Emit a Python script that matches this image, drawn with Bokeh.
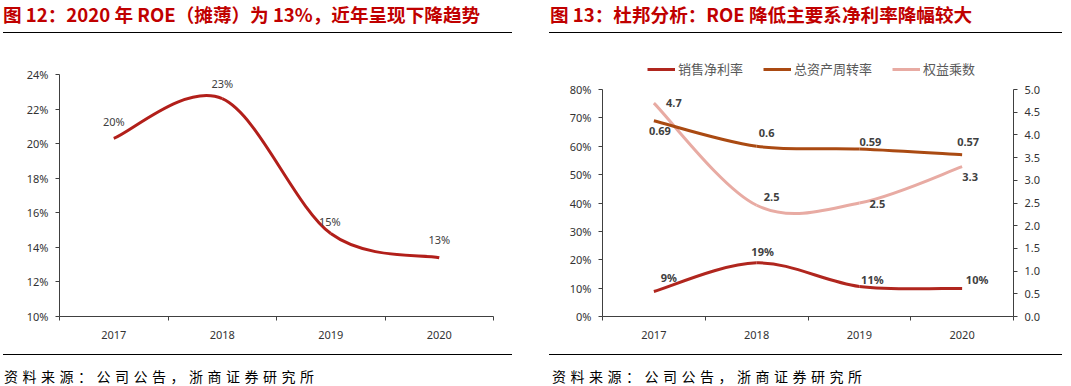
from bokeh.plotting import figure
from bokeh.models import (Range1d, LinearAxis, FixedTicker, PrintfTickFormatter, NumeralTickFormatter,
                          ColumnDataSource, LabelSet, Legend, LegendItem, Div)
from bokeh.layouts import row, column
from bokeh.core.properties import value
from bokeh.embed import file_html
from bokeh.resources import INLINE

# ---------------- data ----------------
years = ["2017", "2018", "2019", "2020"]
roe = [20.3, 22.6, 14.8, 13.4]
roe_labels = ["20%", "23%", "15%", "13%"]
net_margin = [0.088, 0.189, 0.106, 0.099]
net_margin_labels = ["9%", "19%", "11%", "10%"]
turnover = [0.69, 0.60, 0.59, 0.57]
turnover_labels = ["0.69", "0.6", "0.59", "0.57"]
equity_mult = [4.7, 2.45, 2.5, 3.3]
equity_mult_labels = ["4.7", "2.5", "2.5", "3.3"]
left_ticks = [10, 12, 14, 16, 18, 20, 22, 24]
right_pct_ticks = [0, 0.1, 0.2, 0.3, 0.4, 0.5, 0.6, 0.7, 0.8]
right_mult_ticks = [0, 0.5, 1.0, 1.5, 2.0, 2.5, 3.0, 3.5, 4.0, 4.5, 5.0]
series_names = ["销售净利率", "总资产周转率", "权益乘数"]
title_left = "图 12：2020 年 ROE（摊薄）为 13%，近年呈现下降趋势"
title_right = "图 13：杜邦分析：ROE 降低主要系净利率降幅较大"
source_note = "资料来源：公司公告，浙商证券研究所"

# ---------------- styles ----------------
CJK = "Noto Sans CJK SC"
NUM = "Noto Sans"
AXIS_COL = "#404040"
TXT_COL = "#404040"
TITLE_COL = "#C00000"

xs = [i + 0.5 for i in range(len(years))]
n_cat = len(years)


def smooth(xv, yv):
    """Catmull-Rom style cubic Bezier segments through the data points."""
    d = dict(x0=[], y0=[], x1=[], y1=[], cx0=[], cy0=[], cx1=[], cy1=[])
    n = len(xv)
    for i in range(n - 1):
        a = i - 1 if i > 0 else i
        b = i + 2 if i + 2 < n else i + 1
        d["x0"].append(xv[i]); d["y0"].append(yv[i])
        d["x1"].append(xv[i + 1]); d["y1"].append(yv[i + 1])
        d["cx0"].append(xv[i] + (xv[i + 1] - xv[a]) / 6)
        d["cy0"].append(yv[i] + (yv[i + 1] - yv[a]) / 6)
        d["cx1"].append(xv[i + 1] - (xv[b] - xv[i]) / 6)
        d["cy1"].append(yv[i + 1] - (yv[b] - yv[i]) / 6)
    return ColumnDataSource(d)


def style_common(p):
    p.xgrid.visible = False
    p.ygrid.visible = False
    p.outline_line_color = None
    p.background_fill_color = "white"
    p.border_fill_color = "white"


def style_xaxis(ax):
    ax.ticker = FixedTicker(ticks=xs, minor_ticks=list(range(n_cat + 1)))
    ax.major_label_overrides = {x: y for x, y in zip(xs, years)}
    ax.major_tick_line_color = None
    ax.major_tick_out = 0
    ax.major_tick_in = 0
    ax.minor_tick_out = 4
    ax.minor_tick_in = 0
    ax.minor_tick_line_color = AXIS_COL
    ax.axis_line_color = AXIS_COL
    ax.major_label_standoff = 10
    ax.major_label_text_font = NUM
    ax.major_label_text_font_size = "11px"
    ax.major_label_text_color = "#333333"


def style_yaxis(ax, ticks, fmt):
    ax.ticker = FixedTicker(ticks=ticks)
    ax.formatter = fmt
    ax.bounds = (ticks[0], ticks[-1])
    ax.minor_tick_line_color = None
    ax.major_tick_out = 4
    ax.major_tick_in = 0
    ax.major_tick_line_color = AXIS_COL
    ax.axis_line_color = AXIS_COL
    ax.major_label_standoff = 7
    ax.major_label_text_font = NUM
    ax.major_label_text_font_size = "11px"
    ax.major_label_text_color = "#333333"


HEAD_H = 40
CH_H = 314
FOOT_H = 32


def header_div(width, title, margin_left=0, text_left=0):
    html = (f'<div style="position:relative;width:{width}px;height:{HEAD_H}px;">'
            f'<div style="position:absolute;left:{text_left}px;top:4px;white-space:nowrap;font-family:\'{CJK}\';'
            f'font-size:18.6px;line-height:19px;font-weight:bold;color:{TITLE_COL};">{title}</div>'
            f'<div style="position:absolute;left:0;top:32px;width:{width}px;height:0;'
            f'border-top:1.2px solid #000;"></div></div>')
    return Div(text=html, width=width, height=HEAD_H, margin=(0, 0, 0, margin_left))


def footer_div(width, margin_left=0, text_left=1):
    html = (f'<div style="position:relative;width:{width}px;height:{FOOT_H}px;">'
            f'<div style="position:absolute;left:0;top:0;width:{width}px;height:0;'
            f'border-top:1.2px solid #000;"></div>'
            f'<div style="position:absolute;left:{text_left}px;top:14px;white-space:nowrap;'
            f'font-family:\'{CJK}\';font-size:14px;line-height:16px;letter-spacing:4.5px;color:#000;">'
            f'{source_note}</div></div>')
    return Div(text=html, width=width, height=FOOT_H, margin=(0, 0, 0, margin_left))


# ================= left chart =================
W1 = 545
p1 = figure(width=W1, height=CH_H, x_range=Range1d(0, n_cat), y_range=Range1d(left_ticks[0], left_ticks[-1]),
            output_backend="svg", toolbar_location=None,
            min_border_left=59, min_border_right=52, min_border_top=34, min_border_bottom=38)
style_common(p1)
style_xaxis(p1.xaxis[0])
style_yaxis(p1.yaxis[0], left_ticks, PrintfTickFormatter(format="%d%%"))

p1.bezier(x0="x0", y0="y0", x1="x1", y1="y1", cx0="cx0", cy0="cy0", cx1="cx1", cy1="cy1",
          source=smooth(xs, roe), line_color="#B21F1A", line_width=3)

lab1 = ColumnDataSource(dict(x=xs, y=roe, t=roe_labels, dx=[0, 0, -1, 0], dy=[17, 15, 12, 18]))
p1.add_layout(LabelSet(x="x", y="y", text="t", x_offset="dx", y_offset="dy", source=lab1,
                       text_align="center", text_baseline="middle", text_font=value(NUM),
                       text_font_size="11px", text_color=TXT_COL))

left_col = column(header_div(509, title_left, margin_left=3), p1, footer_div(509, margin_left=3, text_left=1))

# ================= right chart =================
# frame is taller than the value area so that the legend sits inside it;
# axis bounds keep the axis lines to the 0-80% / 0-5.0 span.
W2 = 526
TOP2 = 14          # frame top (px from canvas top)
VAL_TOP2 = 49      # where 80% / 5.0 sit
BOT2 = 38
plot_h = CH_H - TOP2 - BOT2
val_h = CH_H - VAL_TOP2 - BOT2
ext = plot_h / val_h
p2 = figure(width=W2, height=CH_H, x_range=Range1d(0, n_cat),
            y_range=Range1d(right_pct_ticks[0], right_pct_ticks[-1] * ext),
            output_backend="svg", toolbar_location=None,
            min_border_left=57, min_border_right=58, min_border_top=TOP2, min_border_bottom=BOT2)
style_common(p2)
style_xaxis(p2.xaxis[0])
style_yaxis(p2.yaxis[0], right_pct_ticks, NumeralTickFormatter(format="0%"))
p2.extra_y_ranges = {"right": Range1d(right_mult_ticks[0], right_mult_ticks[-1] * ext)}
rax = LinearAxis(y_range_name="right")
style_yaxis(rax, right_mult_ticks, PrintfTickFormatter(format="%.1f"))
p2.add_layout(rax, "right")

colors = ["#B0261E", "#AA4A12", "#E8ABA3"]
r_nm = p2.bezier(x0="x0", y0="y0", x1="x1", y1="y1", cx0="cx0", cy0="cy0", cx1="cx1", cy1="cy1",
                 source=smooth(xs, net_margin), line_color=colors[0], line_width=3)
r_eq = p2.bezier(x0="x0", y0="y0", x1="x1", y1="y1", cx0="cx0", cy0="cy0", cx1="cx1", cy1="cy1",
                 source=smooth(xs, equity_mult), line_color=colors[2], line_width=3, y_range_name="right")
r_to = p2.bezier(x0="x0", y0="y0", x1="x1", y1="y1", cx0="cx0", cy0="cy0", cx1="cx1", cy1="cy1",
                 source=smooth(xs, turnover), line_color=colors[1], line_width=3)

lab_kw = dict(text_align="center", text_baseline="middle", text_font=value(NUM), text_font_size="11px",
              text_font_style="bold", text_color=TXT_COL)
p2.add_layout(LabelSet(x="x", y="y", text="t", x_offset="dx", y_offset="dy",
                       source=ColumnDataSource(dict(x=xs, y=net_margin, t=net_margin_labels,
                                                    dx=[15, 6, 13, 15], dy=[14, 11, 7, 9])), **lab_kw))
p2.add_layout(LabelSet(x="x", y="y", text="t", x_offset="dx", y_offset="dy",
                       source=ColumnDataSource(dict(x=xs, y=turnover, t=turnover_labels,
                                                    dx=[6, 10, 11, 6], dy=[-10, 13, 7, 13])), **lab_kw))
p2.add_layout(LabelSet(x="x", y="y", text="t", x_offset="dx", y_offset="dy", y_range_name="right",
                       source=ColumnDataSource(dict(x=xs, y=equity_mult, t=equity_mult_labels,
                                                    dx=[20, 15, 18, 8], dy=[0, 8, -1, -10])), **lab_kw))

legend = Legend(items=[LegendItem(label=series_names[0], renderers=[r_nm]),
                       LegendItem(label=series_names[1], renderers=[r_to]),
                       LegendItem(label=series_names[2], renderers=[r_eq])],
                location=(45, CH_H - BOT2 - 38), orientation="horizontal", padding=0, margin=0,
                spacing=20, glyph_width=28, glyph_height=16, label_height=16, label_standoff=3,
                label_text_font=CJK, label_text_font_size="13px", label_text_color="#595959",
                border_line_color=None, background_fill_alpha=0)
p2.add_layout(legend)

right_col = column(header_div(513, title_right, margin_left=4, text_left=1), p2,
                   footer_div(513, margin_left=4, text_left=3))

layout = row(left_col, right_col)
open("out.html", "w").write(file_html(layout, INLINE))
